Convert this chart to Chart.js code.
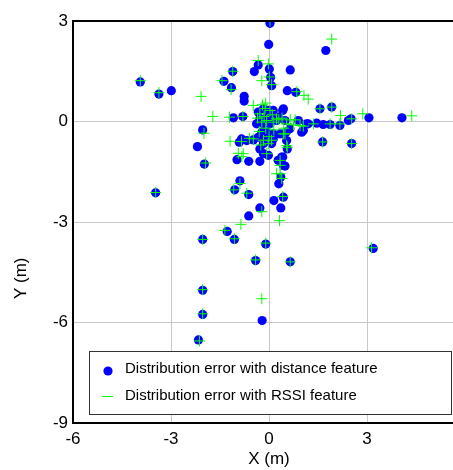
<!DOCTYPE html>
<html>
<head>
<meta charset="utf-8">
<script src="https://cdn.jsdelivr.net/npm/chart.js@4"></script>
<style>
html,body{margin:0;padding:0;overflow:hidden;background:#fff;width:453px;height:470px;}
canvas{display:block;}
</style>
</head>
<body>
<canvas id="c" width="480" height="470"></canvas>
<script>
const xTicks = [-6, -3, 0, 3, 6];
const yTicks = [-9, -6, -3, 0, 3];
const seriesLabels = ["Distribution error with distance feature", "Distribution error with RSSI feature"];

const distX = [0.03,-0.01,1.74,-3.94,-3.37,-2.99,-1.11,-1.38,-1.15,-0.76,-0.76,-0.45,-0.33,0.01,0.05,0.08,0.65,0.56,0.82,1.56,1.92,2.51,3.06,4.07,1.64,2.53,-2.19,-2.03,-1.98,-3.47,-0.98,-0.62,-0.28,-0.89,-1.05,-0.62,-0.62,-0.28,0.15,0.36,0.30,0.36,0.49,0.42,0.44,-1.28,-2.03,-1.06,-0.10,-0.41,0.65,3.19,-2.03,-2.03,-0.21,-2.16,
 -1.09,-0.80,-0.33,-0.17,-0.02,0.13,-0.28,-0.07,0.08,0.28,-0.38,-0.17,0.03,0.23,-0.22,-0.07,0.13,-0.33,-0.12,-0.28,-0.02,0.42,0.49,0.64,0.52,0.54,0.56,0.90,1.05,1.20,1.46,1.66,1.87,2.17,2.43,-0.68,-0.91,-0.48,0.13,-0.84,-0.17,0.08,-0.17,0.39,0.28,0.44,1.00,0.44,1.15,0.34];
const distY = [2.93,2.30,2.12,1.18,0.82,0.92,1.49,1.20,1.01,0.75,0.61,1.49,1.69,1.57,1.32,1.07,1.54,0.92,0.87,0.38,0.43,0.08,0.11,0.11,-0.61,-0.66,-0.75,-0.25,-1.27,-2.13,-1.14,-1.19,-1.19,-1.77,-2.04,-2.18,-2.82,-2.58,-2.36,-2.58,-1.86,-1.66,-1.33,-1.06,-2.26,-3.28,-3.52,-3.52,-3.66,-4.15,-4.19,-3.79,-5.04,-5.76,-5.94,-6.52,
 0.11,0.15,0.28,0.38,0.33,0.33,0.08,0.13,0.08,0.13,-0.07,-0.07,-0.07,0.03,-0.32,-0.32,-0.37,-0.47,-0.47,-0.82,-1.01,0.33,0.03,-0.22,-0.32,-0.57,-0.82,0.03,-0.27,-0.07,-0.05,-0.09,-0.09,-0.12,0.03,-0.57,-0.62,-0.55,-0.52,-0.52,-0.66,-0.66,-0.96,-1.06,-1.16,-1.31,-0.32,0.38,-0.07,-0.37];

const rssiX = [0.03,1.92,-3.94,-3.37,-2.08,-1.72,-1.21,-1.11,-1.44,-1.16,-0.33,-0.02,-0.22,0.01,0.08,0.85,1.07,1.20,1.56,1.92,2.19,2.87,4.37,1.64,2.53,-1.99,-1.94,-3.47,-1.19,-0.94,-0.83,-0.68,-1.08,-0.89,-0.86,-0.22,0.32,0.42,0.39,0.34,0.56,-0.07,-1.35,-2.03,-1.06,-0.10,-0.41,0.65,3.14,-2.03,-0.22,-2.03,-2.13,
 -0.80,-0.48,-0.28,-0.12,0.03,-0.07,-0.22,0.13,0.23,0.54,1.05,1.36,0.44,1.87,2.17,2.53,-0.84,-0.48,-0.17,-0.02,-0.79,0.23,0.08,0.49,0.54,0.34,0.34,-0.20,-0.10,0.10,0.30,0.40,0.65,0.75,0.95,0.45,-0.30,-0.10,0.00,-0.25,-0.60,0.80,-0.35,0.15,-0.15];
const rssiY = [3.00,2.46,1.22,0.86,0.75,0.15,0.13,1.50,1.22,0.95,1.82,1.72,1.22,1.33,1.10,0.89,0.78,0.67,0.38,0.43,0.18,0.23,0.17,-0.61,-0.66,-0.35,-1.24,-2.12,-0.59,-0.95,-1.05,-2.14,-2.04,-1.85,-3.07,-2.69,-2.96,-2.24,-1.70,-1.16,-0.77,-0.96,-3.25,-3.52,-3.50,-3.63,-4.13,-4.19,-3.77,-5.02,-5.29,-5.74,-6.55,
 0.15,0.48,0.23,0.39,0.33,0.03,-0.02,-0.02,0.08,-0.07,-0.14,-0.07,-0.37,-0.07,-0.07,0.08,-0.60,-0.52,-0.56,-0.66,-0.96,-1.56,-0.56,-0.37,-0.72,-1.31,-1.56,0.50,0.55,0.20,0.05,0.10,0.05,-0.10,-0.12,-0.20,-0.30,-0.20,-0.45,-0.70,-0.50,0.05,0.10,-0.25,0.15];

const toPts = (xs, ys) => xs.map((x, i) => ({x: x, y: ys[i]}));
const FONT = "'Liberation Sans', Arial, sans-serif";

const framePlugin = {
  id: 'frame',
  afterDraw(chart) {
    const {ctx, chartArea: a} = chart;
    ctx.save();
    ctx.strokeStyle = '#000';
    ctx.lineWidth = 2;
    ctx.strokeRect(a.left, a.top, a.right - a.left, a.bottom - a.top);
    // Y axis title
    ctx.fillStyle = '#000';
    ctx.font = '17px ' + FONT;
    ctx.textAlign = 'center';
    ctx.textBaseline = 'middle';
    ctx.translate(21, a.top + (a.bottom - a.top) * 0.64);
    ctx.rotate(-Math.PI / 2);
    ctx.fillText('Y (m)', 0, 0);
    ctx.restore();
    // Legend
    const ds = chart.data.datasets;
    const bx = a.left + 16, by = a.bottom - 72, bw = (a.right - 14) - bx, bh = 63;
    ctx.save();
    ctx.fillStyle = '#fff';
    ctx.fillRect(bx, by, bw, bh);
    ctx.strokeStyle = '#333';
    ctx.lineWidth = 1;
    ctx.strokeRect(bx + 0.5, by + 0.5, bw, bh);
    ctx.font = '15px ' + FONT;
    ctx.textAlign = 'left';
    ctx.textBaseline = 'middle';
    ctx.fillStyle = ds[0].backgroundColor;
    ctx.beginPath();
    ctx.arc(bx + 19, by + 20, 4.6, 0, Math.PI * 2);
    ctx.fill();
    ctx.strokeStyle = ds[1].borderColor;
    ctx.beginPath();
    ctx.moveTo(bx + 13, by + 45.5);
    ctx.lineTo(bx + 24, by + 45.5);
    ctx.stroke();
    ctx.fillStyle = '#000';
    ctx.fillText(ds[0].label, bx + 36, by + 18);
    ctx.fillText(ds[1].label, bx + 36, by + 45);
    ctx.restore();
  }
};

new Chart(document.getElementById('c'), {
  type: 'scatter',
  data: {
    datasets: [
      {label: seriesLabels[0], data: toPts(distX, distY), backgroundColor: '#0000ff', borderColor: '#0000ff', borderWidth: 0, pointRadius: 4.6, pointStyle: 'circle', order: 2},
      {label: seriesLabels[1], data: toPts(rssiX, rssiY), backgroundColor: '#00ff00', borderColor: '#00ff00', borderWidth: 1, pointRadius: 5.5, pointStyle: 'cross', order: 1}
    ]
  },
  options: {
    responsive: false,
    animation: false,
    devicePixelRatio: 1,
    layout: {padding: {top: 21, right: 15, left: 0, bottom: 0}},
    plugins: {legend: {display: false}, tooltip: {enabled: false}},
    scales: {
      x: {
        type: 'linear', min: -6, max: 6,
        afterBuildTicks: s => { s.ticks = xTicks.map(v => ({value: v})); },
        afterFit: s => { s.height = 47; },
        ticks: {color: '#000', font: {family: FONT, size: 17}, padding: 6, maxRotation: 0},
        grid: {color: '#c8c8c8', borderDash: [2, 2], drawTicks: false, lineWidth: 1},
        border: {display: false},
        title: {display: true, text: 'X (m)', color: '#000', font: {family: FONT, size: 17}, padding: {top: 0, bottom: 0}}
      },
      y: {
        type: 'linear', min: -9, max: 3,
        afterBuildTicks: s => { s.ticks = yTicks.map(v => ({value: v})); },
        afterFit: s => { s.width = 73; },
        ticks: {color: '#000', font: {family: FONT, size: 17}, padding: 5},
        grid: {color: '#c8c8c8', borderDash: [2, 2], drawTicks: false, lineWidth: 1},
        border: {display: false}
      }
    }
  },
  plugins: [framePlugin]
});
</script>
</body>
</html>
